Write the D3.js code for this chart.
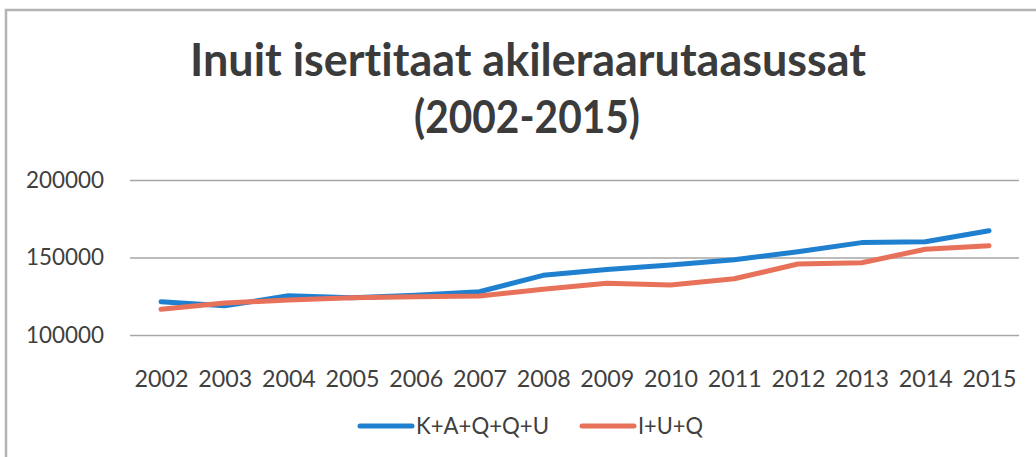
<!DOCTYPE html>
<html>
<head>
<meta charset="utf-8">
<script src="https://d3js.org/d3.v7.min.js"></script>
<style>
  body { margin: 0; background: #fff; }
  text { font-variant-ligatures: none; }
</style>
</head>
<body>
<div id="my_dataviz"></div>
<script>
var years = ["2002","2003","2004","2005","2006","2007","2008","2009","2010","2011","2012","2013","2014","2015"];
var kaqqu = [121500,118800,125300,124000,125600,127900,138500,142300,145200,148600,153700,159600,160200,167300];
var iuq = [116600,120600,122600,124100,124700,125200,129500,133400,132300,136300,145800,146600,155300,157600];
var yTicks = [100000,150000,200000];
var seriesNames = ["K+A+Q+Q+U","I+U+Q"];
var titleLines = ["Inuit isertitaat akileraarutaasussat","(2002-2015)"];

var width = 1036, height = 457;
var font = "Lato, 'Open Sans', sans-serif";
var blue = "#1f80d0", red = "#e8715a";

var svg = d3.select("#my_dataviz")
  .append("svg")
  .attr("width", width)
  .attr("height", height);

svg.append("rect")
  .attr("width", width)
  .attr("height", height)
  .style("fill", "#fff");

// frame of the scanned chart
svg.append("path")
  .attr("d", "M6," + height + " L6,10 L" + width + ",10")
  .style("fill", "none")
  .style("stroke", "#b4b4b4")
  .style("stroke-width", 2.5);

var x = d3.scalePoint()
  .domain(years)
  .range([161, 989]);

var y = d3.scaleLinear()
  .domain([100000, 200000])
  .range([335, 180]);

// gridlines
svg.append("g")
  .attr("transform", "translate(130,0)")
  .call(d3.axisLeft(y).tickValues(yTicks).tickSize(-889).tickFormat(""))
  .call(function(g) { g.select(".domain").remove(); })
  .selectAll("line")
  .style("stroke", "#a6a6a6")
  .style("stroke-width", 1.5);

// y labels
svg.append("g")
  .attr("transform", "translate(104,0)")
  .call(d3.axisLeft(y).tickValues(yTicks).tickSize(0).tickFormat(d3.format("d")))
  .call(function(g) { g.select(".domain").remove(); })
  .selectAll("text")
  .attr("x", 0)
  .attr("textLength", 78)
  .attr("lengthAdjust", "spacingAndGlyphs")
  .style("font-family", font)
  .style("font-size", "23px")
  .style("fill", "#404040");

// x labels
svg.append("g")
  .attr("transform", "translate(0,370)")
  .call(d3.axisBottom(x).tickSize(0))
  .call(function(g) { g.select(".domain").remove(); })
  .selectAll("text")
  .attr("y", 0)
  .attr("dy", "0.72em")
  .attr("textLength", 54)
  .attr("lengthAdjust", "spacingAndGlyphs")
  .style("font-family", font)
  .style("font-size", "23px")
  .style("fill", "#404040");

var line = d3.line()
  .x(function(d, i) { return x(years[i]); })
  .y(function(d) { return y(d); });

svg.append("path")
  .datum(kaqqu)
  .attr("d", line)
  .style("fill", "none")
  .style("stroke", blue)
  .style("stroke-width", 5)
  .style("stroke-linecap", "round")
  .style("stroke-linejoin", "round");

svg.append("path")
  .datum(iuq)
  .attr("d", line)
  .style("fill", "none")
  .style("stroke", red)
  .style("stroke-width", 5)
  .style("stroke-linecap", "round")
  .style("stroke-linejoin", "round");

// title
svg.append("text")
  .attr("x", 528)
  .attr("y", 76)
  .attr("text-anchor", "middle")
  .attr("textLength", 676)
  .attr("lengthAdjust", "spacingAndGlyphs")
  .style("font-family", font)
  .style("font-weight", "bold")
  .style("font-size", "46px")
  .style("fill", "#3b3b3b")
  .text(titleLines[0]);

svg.append("text")
  .attr("x", 527)
  .attr("y", 133)
  .attr("text-anchor", "middle")
  .attr("textLength", 226)
  .attr("lengthAdjust", "spacingAndGlyphs")
  .style("font-family", font)
  .style("font-weight", "bold")
  .style("font-size", "46px")
  .style("fill", "#3b3b3b")
  .text(titleLines[1]);

// legend
var legend = svg.selectAll(".legend")
  .data(seriesNames)
  .enter().append("g")
  .attr("class", "legend")
  .attr("transform", function(d, i) { return "translate(" + (i == 0 ? 360 : 582) + ",426)"; });

legend.append("line")
  .attr("x1", 0)
  .attr("x2", 52)
  .style("stroke", function(d, i) { return i == 0 ? blue : red; })
  .style("stroke-width", 5)
  .style("stroke-linecap", "round");

legend.append("text")
  .attr("x", 56)
  .attr("dy", "0.36em")
  .attr("textLength", function(d, i) { return i == 0 ? 133 : 65; })
  .attr("lengthAdjust", "spacingAndGlyphs")
  .style("font-family", font)
  .style("font-size", "23px")
  .style("fill", "#404040")
  .text(function(d) { return d; });
</script>
</body>
</html>
